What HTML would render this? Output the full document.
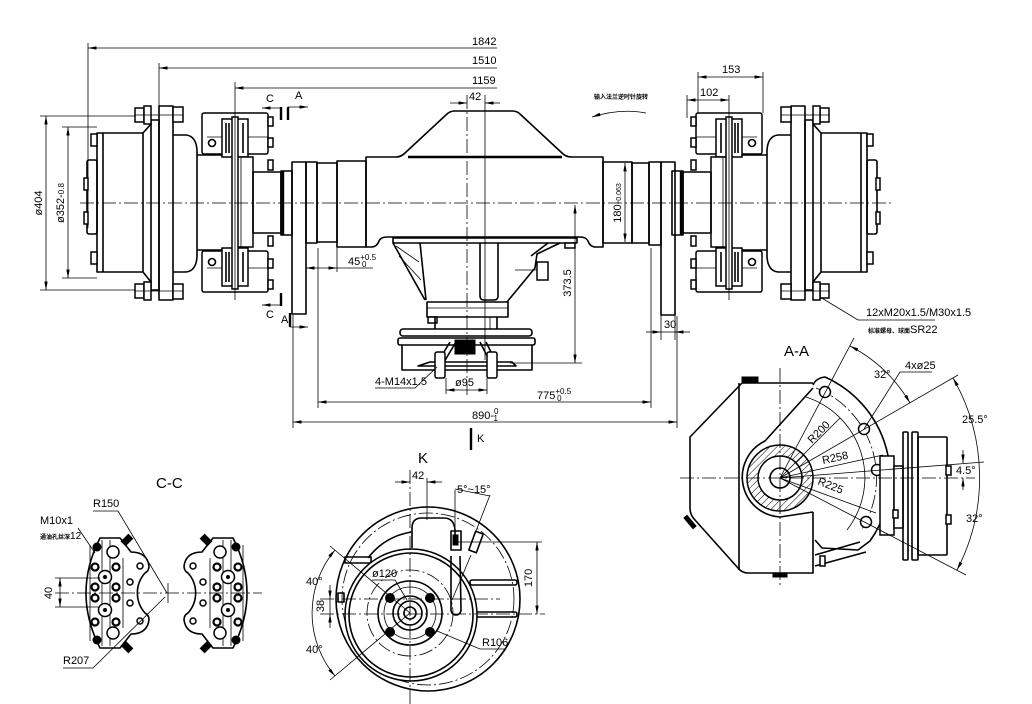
<!DOCTYPE html>
<html><head><meta charset="utf-8"><style>
html,body{margin:0;padding:0;background:#fff}
svg{display:block}
.s{stroke:#000;stroke-width:1.6;fill:none;stroke-linejoin:round}
.f{stroke:#000;stroke-width:1.5;fill:#fff}
.t{stroke:#000;stroke-width:0.8;fill:none}
.c{stroke:#000;stroke-width:0.8;fill:none;stroke-dasharray:14 3 2 3}
.k{stroke:#000;stroke-width:2.4;fill:none}
.b{fill:#000;stroke:#000;stroke-width:1}
.r{stroke:#000;stroke-width:2.2;fill:#fff}
text{font-family:"Liberation Sans","Noto Sans CJK SC",sans-serif;font-size:11px;fill:#000}
.cn{font-size:6px;font-weight:bold}
.big{font-size:15px}
</style></head><body>
<svg width="1032" height="704" viewBox="0 0 1032 704" xmlns="http://www.w3.org/2000/svg">
<defs>
<marker id="a" viewBox="0 0 10 4" refX="10" refY="2" markerWidth="9" markerHeight="3.4" orient="auto-start-reverse" markerUnits="userSpaceOnUse"><path d="M0,0L10,2L0,4z" fill="#000"/></marker>
<pattern id="h" width="5" height="5" patternUnits="userSpaceOnUse" patternTransform="rotate(45)"><line x1="0" y1="0" x2="0" y2="5" stroke="#000" stroke-width="1"/></pattern>
</defs>
<rect width="1032" height="704" fill="#fff"/>

<!-- ===== MAIN VIEW: HUB (left, mirrored right) ===== -->
<g id="hub">
<rect class="s" x="87" y="160" width="10" height="74" rx="2"/>
<rect class="s" x="97" y="133" width="46" height="139"/>
<line class="s" x1="103" y1="133" x2="103" y2="272"/>
<rect class="f" x="91" y="134" width="6" height="12"/>
<rect class="f" x="91" y="252" width="6" height="12"/>
<rect class="f" x="84" y="178" width="4" height="12"/>
<rect class="f" x="84" y="212" width="4" height="12"/>
<path class="s" d="M143,133 L151,124 M143,272 L151,282"/>
<rect class="s" x="151" y="120" width="8" height="170"/>
<rect class="s" x="159" y="106" width="14" height="194"/>
<rect class="f" x="135" y="108" width="9" height="14"/>
<rect class="f" x="144" y="106" width="7" height="18"/>
<rect class="f" x="173" y="107" width="10" height="15"/>
<line class="t" x1="135" y1="115" x2="183" y2="115"/>
<rect class="f" x="135" y="284" width="9" height="14"/>
<rect class="f" x="144" y="282" width="7" height="18"/>
<rect class="f" x="173" y="284" width="10" height="15"/>
<line class="t" x1="135" y1="291" x2="183" y2="291"/>
<path class="s" d="M173,135 L186,135 Q196,136 197,150 L197,257 Q196,271 186,272 L173,272"/>
<path class="s" d="M197,155 L233,155 M197,250 L233,250"/>
<rect class="f" x="202" y="113" width="66" height="41" rx="2"/>
<rect class="f" x="202" y="251" width="66" height="41" rx="2"/>
<line class="t" x1="207" y1="137" x2="268" y2="137"/>
<line class="t" x1="207" y1="268" x2="268" y2="268"/>
<rect class="f" x="222" y="119" width="26" height="38"/>
<rect class="f" x="222" y="248" width="26" height="38"/>
<path class="s" d="M226,123 V153 M229,123 V153 M243,123 V153 M226,252 V282 M229,252 V282 M243,252 V282"/>
<rect class="f" x="237" y="157" width="16" height="90"/>
<line class="t" x1="241" y1="157" x2="241" y2="247"/>
<rect class="f" x="232" y="117" width="6" height="172"/>
<circle class="s" cx="212" cy="143" r="3.5"/>
<circle class="s" cx="212" cy="262" r="3.5"/>
<rect class="s" x="253" y="172" width="28" height="61"/>
<rect class="s" x="281" y="171" width="11" height="64"/>
<line class="k" x1="283" y1="171" x2="283" y2="235"/>
<rect class="f" x="268" y="117" width="5" height="9"/>
<rect class="f" x="268" y="138" width="5" height="9"/>
<rect class="f" x="268" y="160" width="5" height="10"/>
<rect class="f" x="268" y="236" width="5" height="10"/>
<rect class="f" x="268" y="259" width="5" height="9"/>
<rect class="f" x="268" y="280" width="5" height="9"/>
<line class="t" x1="235" y1="95" x2="235" y2="300"/>
</g>
<use href="#hub" transform="matrix(-1 0 0 1 964 0)"/>

<!-- brackets & tube sections -->
<rect class="s" x="292" y="162" width="14" height="152"/>
<rect class="s" x="306" y="162" width="11" height="81"/>
<rect class="s" x="317" y="163" width="20" height="79"/>
<rect class="s" x="337" y="161" width="29" height="86"/>
<rect class="s" x="603" y="162" width="29" height="81"/>
<rect class="s" x="632" y="163" width="17" height="80"/>
<rect class="s" x="649" y="162" width="12" height="83"/>
<rect class="s" x="661" y="162" width="14" height="153"/>

<!-- housing -->
<path class="s" d="M366,157 L396,157 Q401,157 405,153 L447,114 Q450,111 455,111 L512,111 Q517,111 520,114 L562,153 Q566,157 571,157 L603,157 L603,247 L596,247 Q590,247 588,241 Q586,237 580,237 L387,237 Q381,237 379,241 Q377,247 371,247 L366,247 Z"/>
<line class="k" x1="408" y1="157" x2="562" y2="157"/>

<!-- gear case -->
<path class="s" d="M393,238 L577,238 L577,243 L393,243 Z"/>
<path class="s" d="M393,243 L425,300 M420,243 L426,300"/>
<path class="t" d="M396,246 L419,262 M399,256 L421,280"/>
<path class="s" d="M480,243 L480,296 Q480,300 484,300 L494,300 Q498,300 498,296 L498,243"/>
<path class="s" d="M560,243 L537,254 L535,268 L507,302 M548,243 L531,256"/>
<rect class="f" x="565" y="243" width="10" height="5"/>
<rect class="f" x="537" y="262" width="11" height="18"/>
<line class="t" x1="515" y1="270" x2="537" y2="270"/>
<rect class="s" x="427" y="302" width="81" height="15"/>
<line class="t" x1="427" y1="308" x2="508" y2="308"/>
<rect class="f" x="428" y="317" width="9" height="6"/>
<path class="s" d="M435,317 V329 M497,317 V329"/>
<line class="t" x1="490" y1="317" x2="490" y2="329"/>
<rect class="s" x="400" y="329" width="132" height="7" rx="3"/>
<rect class="s" x="398" y="338" width="137" height="7" rx="2"/>
<path class="s" d="M402,345 V370 H532 V345"/>
<path class="s" d="M418,366 L430,362 L512,362 L516,366 Z"/>
<path class="s" d="M450,342 L438,362 M456,342 L444,362 M480,342 L490,362 M486,342 L496,362"/>
<rect class="b" x="455" y="340" width="20" height="14"/>
<rect class="f" x="435" y="352" width="10" height="26" rx="2"/>
<rect class="f" x="487" y="352" width="10" height="26" rx="2"/>

<!-- centerlines -->
<line class="c" x1="80" y1="203" x2="892" y2="203"/>
<line class="c" x1="467" y1="95" x2="467" y2="395"/>
<line class="t" x1="485" y1="95" x2="485" y2="360"/>

<!-- top dims -->
<line class="t" x1="88" y1="43" x2="88" y2="228"/>
<line class="t" x1="88" y1="48" x2="497" y2="48" marker-start="url(#a)"/>
<text x="472" y="45">1842</text>
<line class="t" x1="159" y1="63" x2="159" y2="106"/>
<line class="t" x1="159" y1="68" x2="497" y2="68" marker-start="url(#a)"/>
<text x="472" y="64">1510</text>
<line class="t" x1="235" y1="82" x2="235" y2="95"/>
<line class="t" x1="235" y1="88" x2="497" y2="88" marker-start="url(#a)"/>
<text x="472" y="84">1159</text>
<line class="t" x1="450" y1="103" x2="467" y2="103" marker-end="url(#a)"/>
<line class="t" x1="500" y1="103" x2="485" y2="103" marker-end="url(#a)"/>
<text x="469" y="100">42</text>

<!-- section marks -->
<text x="266" y="102">C</text>
<line class="t" x1="281" y1="108" x2="262" y2="108" marker-end="url(#a)"/>
<line class="k" x1="281" y1="107" x2="281" y2="120"/>
<text x="295" y="99">A</text>
<line class="k" x1="288" y1="107" x2="288" y2="120"/>
<line class="t" x1="288" y1="107" x2="308" y2="107" marker-end="url(#a)"/>
<line class="k" x1="281" y1="293" x2="281" y2="306"/>
<line class="t" x1="281" y1="305" x2="262" y2="305" marker-end="url(#a)"/>
<text x="266" y="318">C</text>
<text x="281" y="323">A</text>
<line class="k" x1="290" y1="313" x2="290" y2="327"/>
<line class="t" x1="290" y1="327" x2="308" y2="327" marker-end="url(#a)"/>

<!-- left diameters -->
<line class="t" x1="40" y1="116" x2="135" y2="116"/>
<line class="t" x1="40" y1="290" x2="135" y2="290"/>
<line class="t" x1="46" y1="116" x2="46" y2="290" marker-start="url(#a)" marker-end="url(#a)"/>
<text transform="translate(42,203) rotate(-90)" text-anchor="middle">ø404</text>
<line class="t" x1="62" y1="127" x2="97" y2="127"/>
<line class="t" x1="62" y1="278" x2="97" y2="278"/>
<line class="t" x1="68" y1="127" x2="68" y2="278" marker-start="url(#a)" marker-end="url(#a)"/>
<text transform="translate(64,203) rotate(-90)" text-anchor="middle">ø352-<tspan font-size="8">0.8</tspan></text>

<!-- right top dims -->
<line class="t" x1="698" y1="72" x2="698" y2="113"/>
<line class="t" x1="763" y1="72" x2="763" y2="113"/>
<line class="t" x1="698" y1="77" x2="763" y2="77" marker-start="url(#a)" marker-end="url(#a)"/>
<text x="722" y="73">153</text>
<line class="t" x1="687" y1="95" x2="687" y2="118"/>
<line class="t" x1="687" y1="100" x2="729" y2="100" marker-start="url(#a)" marker-end="url(#a)"/>
<text x="700" y="96">102</text>
<text class="cn" x="594" y="99">输入法兰逆时针旋转</text>
<path class="t" d="M646,113 Q620,108 592,117" marker-end="url(#a)"/>

<!-- 180, 373.5 -->
<line class="t" x1="625" y1="163" x2="625" y2="242" marker-start="url(#a)" marker-end="url(#a)"/>
<text transform="translate(621,203) rotate(-90)" text-anchor="middle" font-size="10">180-<tspan font-size="7">0.063</tspan></text>
<line class="t" x1="575" y1="205" x2="575" y2="363" marker-start="url(#a)" marker-end="url(#a)"/>
<line class="t" x1="510" y1="363" x2="582" y2="363"/>
<text transform="translate(571,283) rotate(-90)" text-anchor="middle">373.5</text>

<!-- 45 -->
<line class="t" x1="337" y1="247" x2="337" y2="272"/>
<line class="t" x1="306" y1="268" x2="337" y2="268" marker-start="url(#a)" marker-end="url(#a)"/>
<line class="t" x1="337" y1="268" x2="373" y2="268"/>
<text x="348" y="265">45<tspan font-size="8" dy="-5">+0.5</tspan><tspan font-size="8" dx="-14" dy="7">0</tspan></text>

<!-- 30 -->
<line class="t" x1="661" y1="315" x2="661" y2="340"/>
<line class="t" x1="675" y1="315" x2="675" y2="340"/>
<line class="t" x1="646" y1="332" x2="661" y2="332" marker-end="url(#a)"/>
<line class="t" x1="690" y1="332" x2="675" y2="332" marker-end="url(#a)"/>
<line class="t" x1="661" y1="332" x2="675" y2="332"/>
<text x="664" y="328">30</text>

<!-- bottom dims -->
<line class="t" x1="293" y1="315" x2="293" y2="428"/>
<line class="t" x1="677" y1="316" x2="677" y2="428"/>
<line class="t" x1="318" y1="248" x2="318" y2="408"/>
<line class="t" x1="651" y1="248" x2="651" y2="408"/>
<line class="t" x1="318" y1="402" x2="651" y2="402" marker-start="url(#a)" marker-end="url(#a)"/>
<text x="537" y="399">775<tspan font-size="8" dy="-5">+0.5</tspan><tspan font-size="8" dx="-14" dy="7">0</tspan></text>
<line class="t" x1="293" y1="422" x2="677" y2="422" marker-start="url(#a)" marker-end="url(#a)"/>
<text x="472" y="419">890-<tspan font-size="8" dy="-5">0</tspan><tspan font-size="8" dx="-5" dy="7">1</tspan></text>
<line class="t" x1="446" y1="378" x2="446" y2="394"/>
<line class="t" x1="487" y1="378" x2="487" y2="394"/>
<line class="t" x1="446" y1="390" x2="487" y2="390" marker-start="url(#a)" marker-end="url(#a)"/>
<text x="455" y="386">ø95</text>
<text x="375" y="385">4-M14x1.5</text>
<path class="t" d="M375,388 L415,388 L437,367"/>
<line class="k" x1="471" y1="428" x2="471" y2="450"/>
<text x="477" y="442" font-size="10">K</text>

<!-- right note -->
<path class="t" d="M820,297 L858,320 L935,320"/>
<text x="866" y="316" font-size="10">12xM20x1.5/M30x1.5</text>
<text x="868" y="333"><tspan class="cn">标准螺母、球面</tspan><tspan font-size="11">SR22</tspan></text>

<!-- ===== C-C ===== -->
<text class="big" x="156" y="488">C-C</text>
<g id="cal">
<path class="s" d="M100,538 L120,538 L131,552 Q147,552 149,566 Q149,571 145,573 A30,30 0 0 0 145,613 Q149,615 149,620 Q147,634 131,634 L120,648 L100,648 Q72,593 100,538 Z"/>
<path class="t" d="M90,545 V641 M102,540 V646 M110,540 V646 M123,558 V628"/>
<g class="r">
<circle cx="95" cy="567" r="3.5"/><circle cx="116" cy="567" r="3.5"/>
<circle cx="95" cy="587" r="3.5"/><circle cx="116" cy="587" r="3.5"/>
<circle cx="95" cy="598" r="3.5"/><circle cx="116" cy="598" r="3.5"/>
<circle cx="95" cy="622" r="3.5"/><circle cx="116" cy="622" r="3.5"/>
</g>
<g class="f">
<circle cx="105" cy="577" r="6.5"/><circle cx="105" cy="610" r="6.5"/>
<circle cx="113" cy="552" r="6"/><circle cx="113" cy="633" r="6"/>
<circle cx="130" cy="582" r="3"/><circle cx="130" cy="603" r="3"/>
<circle cx="140" cy="566" r="3"/><circle cx="140" cy="621" r="3"/>
</g>
<circle class="b" cx="105" cy="577" r="1.5"/><circle class="b" cx="105" cy="610" r="1.5"/>
<circle class="b" cx="97" cy="547" r="4"/><circle class="b" cx="97" cy="640" r="4"/>
<rect class="b" x="-3" y="-5" width="6" height="10" transform="translate(127,540) rotate(45)"/>
<rect class="b" x="-3" y="-5" width="6" height="10" transform="translate(127,647) rotate(-45)"/>
</g>
<use href="#cal" transform="matrix(-1 0 0 1 333 0)"/>
<line class="c" x1="55" y1="593" x2="262" y2="593"/>
<line class="t" x1="168" y1="583" x2="168" y2="603"/>
<line class="t" x1="55" y1="578" x2="100" y2="578"/>
<line class="t" x1="55" y1="607" x2="100" y2="607"/>
<line class="t" x1="60" y1="578" x2="60" y2="607" marker-start="url(#a)" marker-end="url(#a)"/>
<text transform="translate(52,593) rotate(-90)" text-anchor="middle">40</text>
<text x="93" y="507">R150</text>
<path class="t" d="M93,511 L118,511 L167,593"/>
<text x="40" y="524">M10x1</text>
<text x="40" y="539"><tspan class="cn">通油孔丝深</tspan><tspan font-size="10">12</tspan></text>
<path class="t" d="M78,528 L95,553"/>
<text x="63" y="664">R207</text>
<path class="t" d="M63,668 L93,668 L165,597"/>

<!-- ===== K VIEW ===== -->
<text class="big" x="418" y="463">K</text>
<line class="t" x1="395" y1="482" x2="410" y2="482" marker-end="url(#a)"/>
<line class="t" x1="442" y1="482" x2="427" y2="482" marker-end="url(#a)"/>
<text x="412" y="479">42</text>
<circle class="s" cx="428" cy="599" r="92"/>
<circle class="c" cx="428" cy="599" r="86"/>
<path class="s" d="M412,548 L412,528 Q412,518 422,518 L444,518 Q454,518 455,530 L455,545"/>
<path class="s" d="M368,558 Q385,536 412,532"/>
<rect class="s" x="345" y="557" width="26" height="6"/>
<rect class="s" x="470" y="580" width="47" height="5" rx="2"/>
<rect class="s" x="476" y="612" width="41" height="5" rx="2"/>
<rect class="s" x="338" y="593" width="6" height="9"/>
<circle class="f" cx="411" cy="615" r="66"/>
<circle class="s" cx="411" cy="615" r="62"/>
<circle class="c" cx="410" cy="613" r="43"/>
<circle class="s" cx="410" cy="613" r="32"/>
<circle class="t" cx="410" cy="613" r="26"/>
<circle class="s" cx="410" cy="613" r="17"/>
<circle class="s" cx="410" cy="613" r="12"/>
<circle class="s" cx="410" cy="613" r="6"/>
<circle class="b" cx="390" cy="598" r="4.5"/><circle class="b" cx="430" cy="598" r="4.5"/>
<circle class="b" cx="390" cy="632" r="4.5"/><circle class="b" cx="430" cy="632" r="4.5"/>
<rect class="s" x="451" y="531" width="10" height="19"/>
<rect class="b" x="453" y="535" width="5" height="10"/>
<rect class="s" x="-4" y="-10" width="8" height="20" transform="translate(476,542) rotate(20)"/>
<path class="s" d="M451,556 L451,610 A5,5 0 0 0 461,610 L460,556"/>
<path class="t" d="M455,490 L455,530 M490,495 L476,531 M471,555 L452,600 M455,489 L490,496"/>
<text x="457" y="493" font-size="10">5°~15°</text>
<line class="c" x1="410" y1="470" x2="410" y2="704"/>
<line class="t" x1="427" y1="478" x2="427" y2="520"/>
<line class="c" x1="320" y1="599" x2="500" y2="599"/>
<line class="c" x1="320" y1="614" x2="545" y2="614"/>
<line class="t" x1="458" y1="542" x2="542" y2="542"/>
<line class="t" x1="537" y1="542" x2="537" y2="614" marker-start="url(#a)" marker-end="url(#a)"/>
<text transform="translate(532,578) rotate(-90)" text-anchor="middle">170</text>
<line class="t" x1="330" y1="585" x2="330" y2="599" marker-end="url(#a)"/>
<line class="t" x1="330" y1="628" x2="330" y2="614" marker-end="url(#a)"/>
<line class="t" x1="330" y1="599" x2="330" y2="614"/>
<text transform="translate(324,606) rotate(-90)" text-anchor="middle">38</text>
<path class="t" d="M330,546 L410,613 L330,680"/>
<path class="t" d="M335,550 A98,98 0 0 0 335,676" marker-start="url(#a)" marker-end="url(#a)"/>
<text x="306" y="585">40°</text>
<text x="306" y="653">40°</text>
<text x="372" y="577">ø120</text>
<path class="t" d="M372,580 L395,580 L407,600"/>
<text x="482" y="646">R106</text>
<path class="t" d="M505,649 L480,649 L437,631"/>

<!-- ===== A-A ===== -->
<text class="big" x="784" y="356">A-A</text>
<path class="s" d="M742,383 L813,383 M742,383 L690,437 L690,508 Q690,515 695,520 L738,568 Q742,573 748,573 L813,573 L813,512"/>
<line class="s" x1="739" y1="383" x2="739" y2="570"/>
<rect class="b" x="742" y="377" width="16" height="5"/>
<rect class="b" x="773" y="573" width="14" height="4"/>
<rect class="b" x="688" y="515" width="4" height="14" transform="rotate(-40 690 522)"/>
<path class="s" d="M813,385 Q816,378 825,377 A110,110 0 0 1 870,541 L858,550 L822,548 L815,540"/>
<path class="s" d="M813,388 L765,441 A40,40 0 0 0 780,517 L813,512"/>
<path class="t" d="M806,397 A85,85 0 0 1 847,530"/>
<path class="c" d="M816,388 A97,97 0 0 1 862,529"/>
<path d="M813,478 A33,33 0 1 1 747,478 A33,33 0 1 1 813,478 Z M802,478 A22,22 0 1 0 758,478 A22,22 0 1 0 802,478 Z" fill="url(#h)" fill-rule="evenodd" stroke="#000" stroke-width="1.5"/>
<circle class="s" cx="780" cy="478" r="10"/>
<g class="f">
<circle cx="825" cy="392" r="5.5"/><circle cx="864" cy="429" r="5.5"/>
<circle cx="877" cy="470" r="5.5"/><circle cx="866" cy="522" r="5.5"/>
</g>
<path class="s" d="M815,555 L860,542 M815,566 L866,552"/>
<rect class="f" x="820" y="556" width="5" height="10"/>
<rect class="f" x="880" y="456" width="14" height="79"/>
<rect class="f" x="894" y="466" width="9" height="62"/>
<rect class="f" x="893" y="510" width="5" height="8"/>
<rect class="s" x="903" y="432" width="5" height="128" rx="1"/>
<rect class="s" x="912" y="432" width="6" height="128" rx="1"/>
<rect class="s" x="918" y="437" width="29" height="118" rx="1"/>
<rect class="f" x="946" y="466" width="5" height="9"/>
<rect class="f" x="946" y="515" width="5" height="9"/>
<line class="c" x1="680" y1="478" x2="975" y2="478"/>
<line class="c" x1="780" y1="368" x2="780" y2="588"/>
<path class="t" d="M780,478 L854,338 M780,478 L958,375 M780,478 L984,462 M780,478 L966,575 M780,478 L840,418 M780,478 L883,455 M780,478 L876,513"/>
<path class="t" d="M850,346 A150,150 0 0 1 910,403" marker-start="url(#a)" marker-end="url(#a)"/>
<text x="874" y="378">32°</text>
<path class="t" d="M864,429 L900,372 L932,372"/>
<text x="905" y="369">4xø25</text>
<path class="t" d="M953,378 A200,200 0 0 1 957,570" marker-start="url(#a)" marker-end="url(#a)"/>
<text x="962" y="423">25.5°</text>
<line class="t" x1="963" y1="450" x2="963" y2="463" marker-end="url(#a)"/>
<line class="t" x1="963" y1="490" x2="963" y2="478" marker-end="url(#a)"/>
<text x="956" y="474" font-size="10">4.5°</text>
<text x="966" y="522">32°</text>
<text transform="translate(812,444) rotate(-45)">R200</text>
<text transform="translate(823,464) rotate(-12)">R258</text>
<text transform="translate(817,484) rotate(22)">R225</text>
</svg>
</body></html>
